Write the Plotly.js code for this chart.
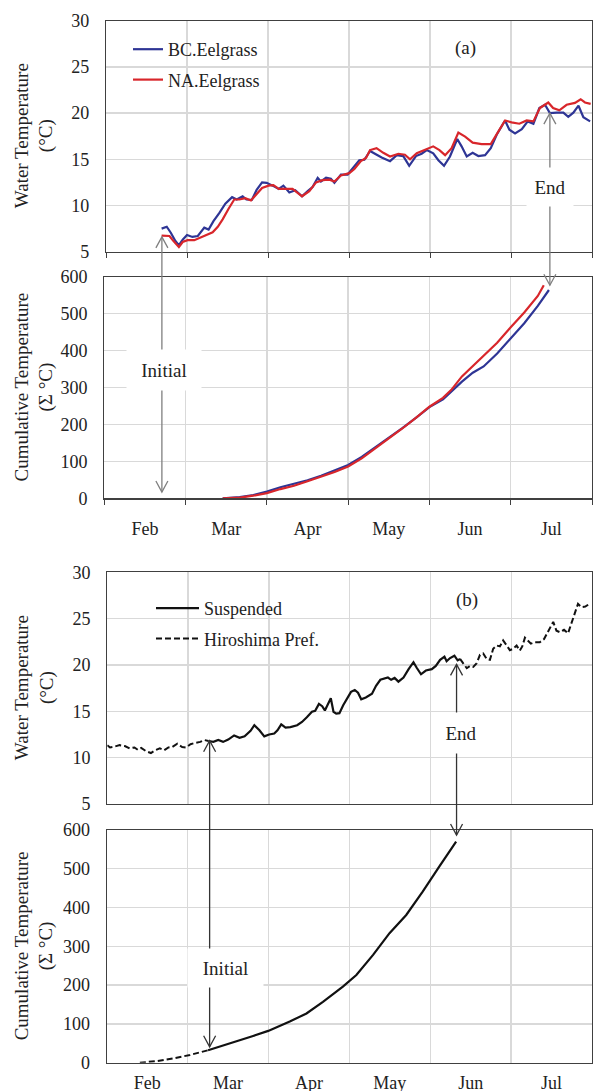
<!DOCTYPE html>
<html><head><meta charset="utf-8">
<script src="https://cdn.plot.ly/plotly-3.0.1.min.js"></script>
<style>html,body{margin:0;padding:0;background:#fff}</style>
</head><body><div id="chart" style="width:593px;height:1091px"></div>
<script>
// ---------- DATA ----------
const monthLabels = ['Feb','Mar','Apr','May','Jun','Jul'];
const monthStarts = [0,30,60,90,120,150,180];
const monthMids = [15,45,75,105,135,165];

// (a) water temperature
const bcDays = [20.6,22.5,24,25.7,27,28.4,30,32,34,36.4,38,39.8,42,44.2,46.7,48.4,50.6,52,54,55.8,57.8,59.5,61.7,64,65.7,67.9,70.1,72.6,74.7,76.5,78.4,79.6,81.5,83.3,84.6,87,89.5,91.4,93.8,95.7,97.8,99.6,102.1,105.2,107.7,110.1,112.3,114.8,116.9,118.8,121.2,123.1,125.2,127.4,130.1,131.7,133.6,135.8,137.9,140.4,142.5,144.7,147.8,149.4,151.5,154,156.2,158.3,160.5,162.6,164.4,166.9,169.4,171.2,173.1,175,176.8,179.3];
const bcTemp = [7.5,7.7,7.05,6.15,5.7,6.3,6.8,6.6,6.7,7.6,7.4,8.3,9.2,10.2,10.9,10.65,11.0,10.65,10.6,11.7,12.5,12.45,12.15,11.8,12.15,11.4,11.65,11.0,11.55,12.0,13.0,12.6,13.0,12.9,12.45,13.35,13.35,14.05,14.9,14.95,15.9,15.6,15.2,14.8,15.45,15.35,14.3,15.35,15.6,16.0,15.65,14.9,14.3,15.3,17.2,16.4,15.3,15.7,15.35,15.45,16.2,17.65,19.2,18.2,17.8,18.25,19.1,18.85,20.55,20.9,20.0,20.05,20.05,19.6,20.05,20.8,19.55,19.1];
const naDays = [20.6,23.5,25,27,28.4,30.2,32.7,34.6,37,39.5,41.4,43.2,45.4,47.5,49.4,51.6,53.7,55.6,57.8,60.2,62,64,66.7,69.1,72.6,75.3,77.8,80.2,82.7,84.6,87,90.1,92,94.4,96.3,97.8,100.2,102.7,105.2,108.3,110.7,112.6,115.1,118.1,121.2,123.5,125.6,128,130.5,133,135.8,139.1,142.5,144.9,147.8,150.2,153.1,155.8,158.3,160.7,163.8,165.6,167.9,170.6,173.7,175.8,177.4,179.5];
const naTemp = [6.75,6.7,6.15,5.5,6.05,6.25,6.25,6.5,6.85,7.1,7.7,8.5,9.65,10.65,10.65,10.8,10.55,11.2,11.9,12.15,12.2,11.8,11.8,11.8,11.0,11.55,12.5,12.75,12.8,12.6,13.25,13.5,13.95,14.8,15.15,16.0,16.2,15.7,15.3,15.6,15.5,15.0,15.65,16.0,16.4,16.0,15.45,16.2,17.9,17.45,16.8,16.65,16.65,17.8,19.2,19.0,18.85,19.2,19.1,20.55,21.15,20.55,20.3,20.9,21.1,21.5,21.15,21.0];

// (a) cumulative temperature
const bcCumDays = [43.7,50,55,60,65,70,75,80,85,90,95,100,105,110,115,120,125,128,132,136,140,145,150,155,160,164.1];
const bcCum = [0,3,9,18,30,39,49,61,75,90,112,138,163,190,218,247,268,289,316,340,357,392,433,474,521,564];
const naCumDays = [43.7,50,55,60,65,70,75,80,85,90,95,100,105,110,115,120,125,128,132,136,140,145,150,155,160,162.2];
const naCum = [0,2,7,14,25,34,46,58,71,86,108,135,161,189,218,248,272,293,330,358,386,421,463,503,548,577];

// (b) water temperature
const hiroDays = [0,1,2.8,4.6,6.5,8.3,10.1,11.3,12.6,14.4,16.2,17.8,19.5,21.1,22.7,24.1,26,27.8,29.3,30.9,32.7,34.5,36.1,37.6,84,131,132.2,133.5,134.7,135.9,137.2,138.4,139.6,140.9,142.1,143.3,144.6,145.8,147,148.3,149.5,150.7,152,153.2,154.1,155.1,156,157.3,158.8,160.6,162.2,164,165.6,166.8,168,169.6,171.1,172.3,173.8,174.8,176,177.5,179.1];
const hiroTemp = [11.35,11.1,11.2,11.35,11.25,11.0,11.1,10.85,11.05,10.7,10.5,10.8,11.0,10.8,11.1,11.15,11.5,11.15,11.1,11.45,11.6,11.7,11.9,11.8,null,20.65,20.1,19.65,19.9,19.8,20.2,21.1,21.25,20.65,20.55,21.75,22.1,22.0,22.65,22.1,21.6,21.75,22.1,21.55,22.0,22.95,22.7,22.3,22.45,22.45,22.8,23.7,24.65,23.7,23.55,23.8,23.4,24.45,25.9,26.6,26.25,26.3,26.6];
const suspDays = [37.6,39.4,41.2,43,44.9,47.1,49.1,51,53.2,54.6,56.5,58.3,60.1,62,63.2,64.6,66.2,68,70.5,72.3,74.1,76,77.2,78.6,79.8,80.8,83,84,85,86.2,87.6,89.2,90.5,91.9,93.1,94.3,96,98.3,99.8,101.4,103,104.2,105.4,106.7,108.1,110,111.9,113.7,114.9,116.5,118.3,120.5,122,123.6,125.2,126,127.3,128.9,130.1,131];
const suspTemp = [11.8,11.7,11.9,11.7,11.95,12.4,12.15,12.3,12.9,13.5,12.95,12.3,12.5,12.6,12.95,13.6,13.25,13.3,13.5,13.85,14.35,14.95,15.05,15.8,15.55,15.1,16.4,14.95,14.75,14.8,15.65,16.5,17.1,17.3,17.0,16.3,16.5,16.9,17.75,18.4,18.5,18.65,18.4,18.6,18.2,18.65,19.55,20.3,19.7,19.0,19.4,19.55,19.9,20.55,20.9,20.4,20.75,21.0,20.5,20.65];

// (b) cumulative temperature
const hiroCumDays = [12.3,18.5,24.7,30.9,37.6];
const hiroCum = [0,4,11,20,32];
const suspCumDays = [37.6,46.9,54.3,59.9,67.9,74.1,80.2,87.6,92.6,98.8,104.9,111.1,117.2,123.4,129.6];
const suspCum = [32,52,69,82,106,127,157,196,226,278,334,381,441,506,570];

// Initial / End markers: day, temperature at upper tip, cumulative at lower tip
const markerNames = ['Initial','End','Initial','End'];
const markerDays = [20.7,164.4,38.0,129.7];
const markerTemp = [6.6,20.0,11.83,20.07];
const markerCum = [17,577,41,587];

// ---------- LAYOUT ----------
const W = 593, H = 1091;
const FONT = 'Liberation Serif';
const TXT = '#222';
const GRID = '#d9d9d9';
const FRAME = '#404040';
const BLUE = '#2e3595', RED = '#d8262b';

const domX = {a1:[106/W,592/W], a2:[104.3/W,592/W], b1:[107.3/W,592/W], b2:[106.7/W,592/W]};
const domY = {a1:[1-251.7/H,1-20.7/H], a2:[1-498.3/H,1-276.7/H], b1:[1-804/H,1-572.3/H], b2:[1-1062.7/H,1-830/H]};
const tRange = [5,30], cRange = [0,600], dRange = [0,180];

function xAxis(dom, anchor, showLabels, tickOut, standoff){
  return {domain:dom, anchor:anchor, range:dRange, tickmode:'array', tickvals:monthMids, ticktext:monthLabels,
    showticklabels:showLabels, ticks:'', showgrid:false, zeroline:false, showline:true, mirror:true,
    linecolor:FRAME, linewidth:1.2, tickfont:{family:FONT,size:18,color:TXT}, ticklabelstandoff:standoff,
    minor:{tickmode:'array', tickvals:monthStarts, showgrid:true, gridcolor:GRID, gridwidth:1.3,
      ticks: tickOut ? 'outside' : '', ticklen:5, tickcolor:FRAME, tickwidth:1}, fixedrange:true};
}
function yAxis(dom, anchor, range, dtick){
  return {domain:dom, anchor:anchor, range:range, tickmode:'linear', tick0:0, dtick:dtick, ticks:'',
    showgrid:true, gridcolor:GRID, gridwidth:1.3, zeroline:false, showline:true, mirror:true,
    linecolor:FRAME, linewidth:1.2, tickfont:{family:FONT,size:18,color:TXT}, ticklabelstandoff:12, fixedrange:true};
}

function pY(dom, rng, v){ return dom[0] + (v - rng[0])/(rng[1]-rng[0])*(dom[1]-dom[0]); }
function pX(dom, rng, v){ return dom[0] + (v - rng[0])/(rng[1]-rng[0])*(dom[1]-dom[0]); }

const traces = [
  {x:bcDays, y:bcTemp, xaxis:'x', yaxis:'y', mode:'lines', name:'BC.Eelgrass', line:{color:BLUE,width:2.2}, legend:'legend', legendgroup:'bc'},
  {x:naDays, y:naTemp, xaxis:'x', yaxis:'y', mode:'lines', name:'NA.Eelgrass', line:{color:RED,width:2.2}, legend:'legend', legendgroup:'na'},
  {x:bcCumDays, y:bcCum, xaxis:'x2', yaxis:'y2', mode:'lines', name:'BC.Eelgrass', showlegend:false, line:{color:BLUE,width:2.2}},
  {x:naCumDays, y:naCum, xaxis:'x2', yaxis:'y2', mode:'lines', name:'NA.Eelgrass', showlegend:false, line:{color:RED,width:2.2}},
  {x:suspDays, y:suspTemp, xaxis:'x3', yaxis:'y3', mode:'lines', name:'Suspended', line:{color:'#111',width:2.2}, legend:'legend2', legendgroup:'s'},
  {x:hiroDays, y:hiroTemp, xaxis:'x3', yaxis:'y3', mode:'lines', name:'Hiroshima Pref.', connectgaps:false, line:{color:'#111',width:2,dash:'6px,3px'}, legend:'legend2', legendgroup:'h'},
  {x:suspCumDays, y:suspCum, xaxis:'x4', yaxis:'y4', mode:'lines', name:'Suspended', showlegend:false, line:{color:'#111',width:2.2}},
  {x:hiroCumDays, y:hiroCum, xaxis:'x4', yaxis:'y4', mode:'lines', name:'Hiroshima Pref.', showlegend:false, line:{color:'#111',width:2,dash:'6px,3px'}}
];

// arrows (line + open heads)
const shapes = [];
const arrowPanels = [
  {xd:domX.a1, td:domY.a1, bd:domY.a2, color:'#7f7f7f'},
  {xd:domX.a1, td:domY.a1, bd:domY.a2, color:'#7f7f7f'},
  {xd:domX.b1, td:domY.b1, bd:domY.b2, color:'#333'},
  {xd:domX.b1, td:domY.b1, bd:domY.b2, color:'#333'}
];
markerDays.forEach((d,i)=>{
  const p = arrowPanels[i];
  const xp = pX(p.xd, dRange, d);
  const yt = pY(p.td, tRange, markerTemp[i]);
  const yb = pY(p.bd, cRange, markerCum[i]);
  shapes.push({type:'line', xref:'paper', yref:'paper', x0:xp, x1:xp, y0:yt, y1:yb, line:{color:p.color,width:1.3}});
  shapes.push({type:'path', xref:'paper', yref:'paper', xsizemode:'pixel', ysizemode:'pixel', xanchor:xp, yanchor:yt,
    path:'M -6 -11 L 0 0 L 6 -11', line:{color:p.color,width:1.3}});
  shapes.push({type:'path', xref:'paper', yref:'paper', xsizemode:'pixel', ysizemode:'pixel', xanchor:xp, yanchor:yb,
    path:'M -6 11 L 0 0 L 6 11', line:{color:p.color,width:1.3}});
});

const af = {family:FONT, size:19, color:TXT};
function yTitle(dom, text){
  return {xref:'paper', yref:'paper', x:34/W, y:(dom[0]+dom[1])/2, xanchor:'center', yanchor:'middle',
    text:text, textangle:-90, showarrow:false, font:af};
}
const annotations = [
  yTitle(domY.a1, 'Water Temperature<br>(°C)'),
  yTitle(domY.a2, 'Cumulative Temperature<br>(Σ °C)'),
  yTitle(domY.b1, 'Water Temperature<br>(°C)'),
  yTitle(domY.b2, 'Cumulative Temperature<br>(Σ °C)'),
  {xref:'x', yref:'y', x:133.3, y:27.05, text:'(a)', showarrow:false, font:af},
  {xref:'x3', yref:'y3', x:133.4, y:27.0, text:'(b)', showarrow:false, font:af},
  {xref:'x2', yref:'y2', x:21.9, y:347, text:markerNames[0], showarrow:false, font:af, bgcolor:'#fff', width:72, height:38},
  {xref:'x', yref:'y', x:164.3, y:12.0, text:markerNames[1], showarrow:false, font:af, bgcolor:'#fff', width:44, height:36},
  {xref:'x4', yref:'y4', x:44.2, y:244, text:markerNames[2], showarrow:false, font:af, bgcolor:'#fff', width:73, height:36},
  {xref:'x3', yref:'y3', x:131.5, y:12.7, text:markerNames[3], showarrow:false, font:af, bgcolor:'#fff', width:50, height:38}
];

const legendBase = {xanchor:'left', yanchor:'top', bgcolor:'rgba(0,0,0,0)', borderwidth:0,
  font:{family:FONT,size:18,color:TXT}, traceorder:'grouped', tracegroupgap:4};

const layout = {
  width:W, height:H, margin:{l:0,r:0,t:0,b:0}, paper_bgcolor:'#fff', plot_bgcolor:'#fff',
  showlegend:true,
  legend: Object.assign({x:128/W, y:1-31/H}, legendBase),
  legend2: Object.assign({x:151/W, y:1-590/H, itemwidth:43}, legendBase),
  xaxis: xAxis(domX.a1,'y',false,true,0),
  yaxis: yAxis(domY.a1,'x',tRange,5),
  xaxis2: xAxis(domX.a2,'y2',true,true,14),
  yaxis2: yAxis(domY.a2,'x2',cRange,100),
  xaxis3: xAxis(domX.b1,'y3',false,false,0),
  yaxis3: yAxis(domY.b1,'x3',tRange,5),
  xaxis4: xAxis(domX.b2,'y4',true,false,3),
  yaxis4: yAxis(domY.b2,'x4',cRange,100),
  shapes:shapes, annotations:annotations
};

Plotly.newPlot('chart', traces, layout, {displayModeBar:false, staticPlot:true});
</script></body></html>
